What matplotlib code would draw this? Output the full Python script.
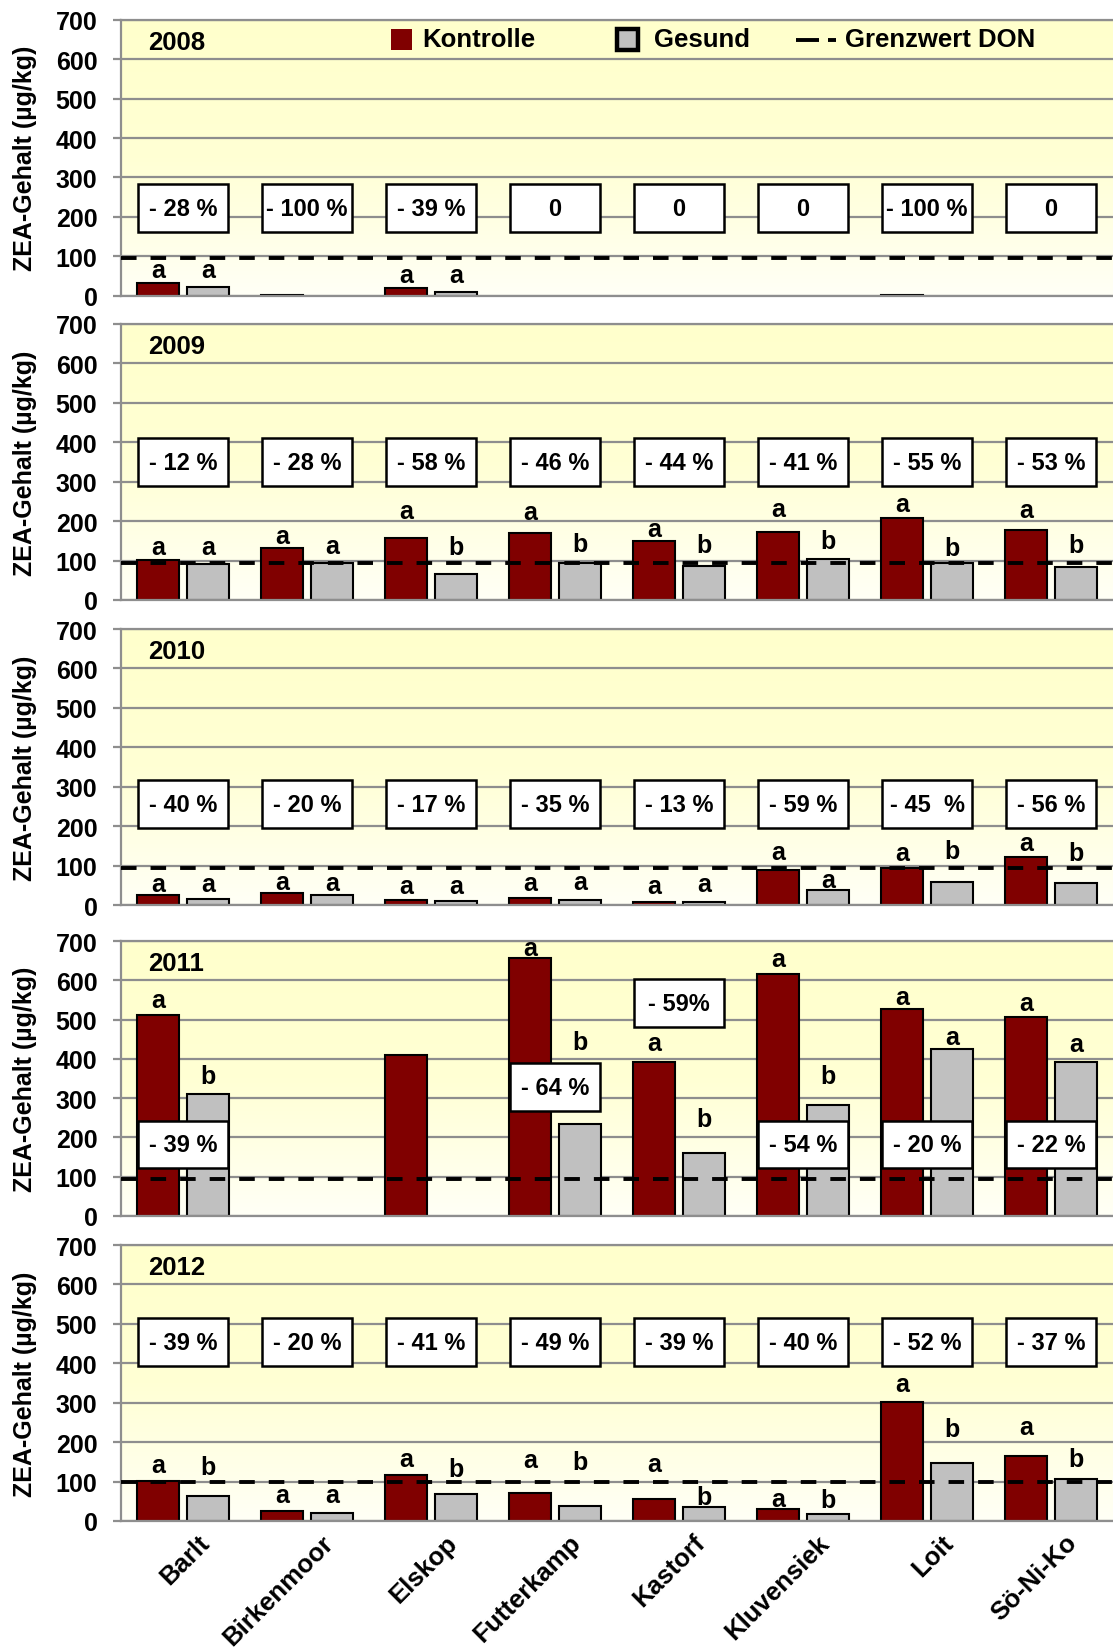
import numpy as np
import matplotlib
matplotlib.use("Agg")
import matplotlib.pyplot as plt
from matplotlib.patches import Rectangle
from matplotlib.colors import LinearSegmentedColormap
from matplotlib.transforms import ScaledTranslation
from matplotlib.lines import Line2D

plt.rcParams['font.family'] = ['Liberation Sans', 'DejaVu Sans']
plt.rcParams['font.weight'] = 'bold'

nan = np.nan

sites = ["Barlt", "Birkenmoor", "Elskop", "Futterkamp", "Kastorf", "Kluvensiek", "Loit", "Sö-Ni-Ko"]
years = ["2008", "2009", "2010", "2011", "2012"]

# ZEA contents (µg/kg)
kontrolle_2008 = [32, 2, 18, nan, nan, nan, 2, nan]
gesund_2008 = [22, nan, 10, nan, nan, nan, nan, nan]
kontrolle_2009 = [102, 132, 156, 170, 150, 173, 209, 178]
gesund_2009 = [91, 95, 66, 93, 85, 103, 95, 83]
kontrolle_2010 = [26, 31, 13, 19, 8, 88, 95, 123]
gesund_2010 = [16, 25, 10, 12, 7, 37, 58, 55]
kontrolle_2011 = [511, nan, 411, 658, 392, 615, 528, 506]
gesund_2011 = [311, nan, nan, 235, 160, 283, 424, 392]
kontrolle_2012 = [101, 26, 116, 70, 55, 30, 302, 166]
gesund_2012 = [63, 21, 69, 37, 35, 19, 146, 106]

# Grenzwert line per year
grenzwert = [95, 95, 95, 94, 100]

# Significance letters (Kontrolle, Gesund) and their heights
letters_k_2008 = ["a", "", "a", "", "", "", "", ""]
letters_g_2008 = ["a", "", "a", "", "", "", "", ""]
letter_y_k_2008 = [64, 0, 53, 0, 0, 0, 0, 0]
letter_y_g_2008 = [64, 0, 53, 0, 0, 0, 0, 0]

letters_k_2009 = ["a"] * 8
letters_g_2009 = ["a", "a", "b", "b", "b", "b", "b", "b"]
letter_y_k_2009 = [135, 162, 226, 222, 181, 230, 243, 229]
letter_y_g_2009 = [135, 137, 135, 141, 139, 149, 133, 140]

letters_k_2010 = ["a"] * 8
letters_g_2010 = ["a", "a", "a", "a", "a", "a", "b", "b"]
letter_y_k_2010 = [52, 59, 48, 57, 48, 135, 133, 157]
letter_y_g_2010 = [52, 55, 47, 59, 52, 64, 137, 133]

letters_k_2011 = ["a", "", "", "a", "a", "a", "a", "a"]
letters_g_2011 = ["b", "", "", "b", "b", "b", "a", "a"]
letter_y_k_2011 = [549, 0, 0, 683, 441, 653, 558, 541]
letter_y_g_2011 = [356, 0, 0, 443, 246, 356, 456, 439]

letters_k_2012 = ["a"] * 8
letters_g_2012 = ["b", "a", "b", "b", "b", "b", "b", "b"]
letter_y_k_2012 = [141, 65, 158, 154, 145, 55, 348, 238]
letter_y_g_2012 = [138, 65, 133, 149, 62, 52, 234, 158]

# Reduction boxes
boxes_2008 = ["- 28 %", "- 100 %", "- 39 %", "0", "0", "0", "- 100 %", "0"]
box_y_2008 = [222] * 8
boxes_2009 = ["- 12 %", "- 28 %", "- 58 %", "- 46 %", "- 44 %", "- 41 %", "- 55 %", "- 53 %"]
box_y_2009 = [350] * 8
boxes_2010 = ["- 40 %", "- 20 %", "- 17 %", "- 35 %", "- 13 %", "- 59 %", "- 45  %", "- 56 %"]
box_y_2010 = [256] * 8
boxes_2011 = ["- 39 %", "", "", "- 64 %", "- 59%", "- 54 %", "- 20 %", "- 22 %"]
box_y_2011 = [182, 0, 0, 328, 542, 182, 182, 182]
boxes_2012 = ["- 39 %", "- 20 %", "- 41 %", "- 49 %", "- 39 %", "- 40 %", "- 52 %", "- 37 %"]
box_y_2012 = [453] * 8

kontrolle = [kontrolle_2008, kontrolle_2009, kontrolle_2010, kontrolle_2011, kontrolle_2012]
gesund = [gesund_2008, gesund_2009, gesund_2010, gesund_2011, gesund_2012]
letters_k = [letters_k_2008, letters_k_2009, letters_k_2010, letters_k_2011, letters_k_2012]
letters_g = [letters_g_2008, letters_g_2009, letters_g_2010, letters_g_2011, letters_g_2012]
letter_y_k = [letter_y_k_2008, letter_y_k_2009, letter_y_k_2010, letter_y_k_2011, letter_y_k_2012]
letter_y_g = [letter_y_g_2008, letter_y_g_2009, letter_y_g_2010, letter_y_g_2011, letter_y_g_2012]
boxes = [boxes_2008, boxes_2009, boxes_2010, boxes_2011, boxes_2012]
box_y = [box_y_2008, box_y_2009, box_y_2010, box_y_2011, box_y_2012]

yticks = [0, 100, 200, 300, 400, 500, 600, 700]

C_K = "#800000"
C_G = "#C0C0C0"
GRID = "#8E8E8E"

W, H = 1113, 1649
fig = plt.figure(figsize=(W / 100, H / 100), dpi=100)

# panel extents in pixels (top, bottom)
panel_px = [(21, 296.5), (325, 601), (630, 906), (942, 1217), (1246, 1522)]
left_px = 121

bg_cmap = LinearSegmentedColormap.from_list(
    "bg", [(0.0, "#FFFFF6"), (0.5, "#FFFFD4"), (1.0, "#FFFFCC")])
grad = np.linspace(0, 1, 256).reshape(-1, 1)

x = np.arange(len(sites))
bw = 0.34
off = 0.2

axes = []
for p, (top, bot) in enumerate(panel_px):
    ax = fig.add_axes([left_px / W, 1 - bot / H, 1 - left_px / W, (bot - top) / H])
    axes.append(ax)
    ax.imshow(grad, extent=(-0.5, 7.5, 0, 700), origin="lower", aspect="auto",
              cmap=bg_cmap, zorder=0, interpolation="bilinear")
    ax.set_xlim(-0.5, 7.5)
    ax.set_ylim(0, 700)
    ax.set_yticks(yticks)
    ax.set_axisbelow(True)
    ax.yaxis.grid(True, color=GRID, lw=1.6, zorder=0.5)
    for s in ["left", "bottom", "top"]:
        ax.spines[s].set_color(GRID)
        ax.spines[s].set_linewidth(1.6)
    ax.spines["right"].set_visible(False)
    ax.tick_params(axis="y", direction="out", length=6, width=1.6, color=GRID,
                   labelsize=18, pad=11)
    ax.tick_params(axis="x", length=0)
    for lab in ax.get_yticklabels():
        lab.set_fontweight("bold")

    k = np.array(kontrolle[p], dtype=float)
    g = np.array(gesund[p], dtype=float)
    mk = ~np.isnan(k)
    mg = ~np.isnan(g)
    ax.bar(x[mk] - off, k[mk], width=bw, color=C_K, edgecolor="black", lw=1.5, zorder=2)
    ax.bar(x[mg] + off, g[mg], width=bw, color=C_G, edgecolor="black", lw=1.5, zorder=2)

    ax.axhline(grenzwert[p], color="black", lw=2.8, dashes=(4.0, 3.6), zorder=3)

    for i in range(len(sites)):
        if letters_k[p][i]:
            ax.text(x[i] - off, letter_y_k[p][i], letters_k[p][i], ha="center", va="center",
                    fontsize=18, fontweight="bold", zorder=5)
        if letters_g[p][i]:
            ax.text(x[i] + off, letter_y_g[p][i], letters_g[p][i], ha="center", va="center",
                    fontsize=18, fontweight="bold", zorder=5)
        if boxes[p][i]:
            cy = box_y[p][i]
            ax.add_patch(Rectangle((x[i] - 0.36, cy - 61), 0.72, 122, facecolor="white",
                                   edgecolor="black", lw=1.8, zorder=4))
            ax.text(x[i], cy, boxes[p][i], ha="center", va="center", fontsize=17,
                    fontweight="bold", zorder=5)

    ax.text(0.027, 0.92, years[p], transform=ax.transAxes, ha="left", va="center",
            fontsize=18.5, fontweight="bold", zorder=6)

    ax.set_ylabel("ZEA-Gehalt (µg/kg)", fontsize=18, fontweight="bold")
    ax.yaxis.set_label_coords((37 - left_px) / (W - left_px), 0.5)

    ax.set_xticks(x)
    if p == len(panel_px) - 1:
        ax.set_xticklabels(sites, rotation=45, ha="right", va="top",
                           rotation_mode="anchor", fontsize=18.5, fontweight="bold")
        for lab in ax.get_xticklabels():
            lab.set_transform(lab.get_transform() +
                              ScaledTranslation(10 / 72, -3 / 72, fig.dpi_scale_trans))
    else:
        ax.set_xticklabels([])

# Legend (drawn in figure pixel coords)
def fx(px):
    return px / W

def fy(py):
    return 1 - py / H

fig.patches.append(Rectangle((fx(391), fy(51)), 21 / W, 21 / H, facecolor=C_K,
                             edgecolor="none", transform=fig.transFigure, zorder=10))
fig.text(fx(422), fy(40), "Kontrolle", ha="left", va="center", fontsize=18.5,
         fontweight="bold", zorder=11)
fig.patches.append(Rectangle((fx(617), fy(51)), 21 / W, 21 / H, facecolor=C_G,
                             edgecolor="black", lw=3.2, transform=fig.transFigure, zorder=10))
fig.text(fx(654), fy(40), "Gesund", ha="left", va="center", fontsize=18.5,
         fontweight="bold", zorder=11)
fig.lines.append(Line2D([fx(796), fx(819)], [fy(41), fy(41)], color="black", lw=2.8,
                        solid_capstyle="butt", transform=fig.transFigure, zorder=10))
fig.lines.append(Line2D([fx(828), fx(836)], [fy(41), fy(41)], color="black", lw=2.8,
                        solid_capstyle="butt", transform=fig.transFigure, zorder=10))
fig.text(fx(845), fy(40), "Grenzwert DON", ha="left", va="center", fontsize=18.5,
         fontweight="bold", zorder=11)

fig.savefig("out.png", dpi=100, facecolor="white")
